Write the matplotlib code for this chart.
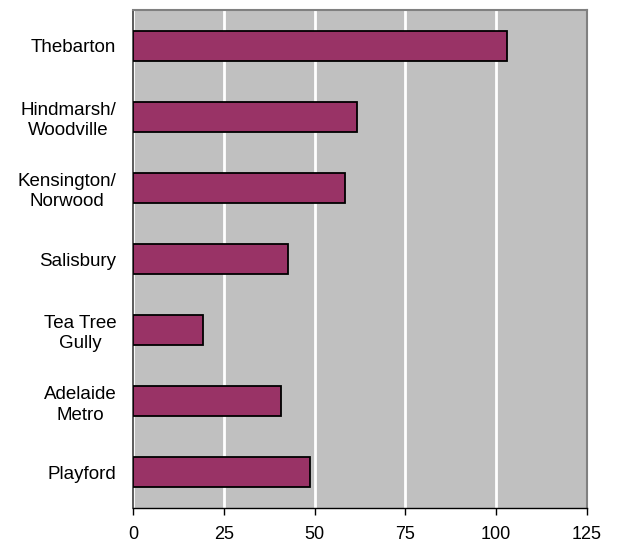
import matplotlib
matplotlib.use("Agg")
import matplotlib.pyplot as plt

plt.rcParams['font.family'] = ['Liberation Sans', 'DejaVu Sans']

regions = ["Thebarton", "Hindmarsh/\nWoodville", "Kensington/\nNorwood", "Salisbury",
           "Tea Tree\nGully", "Adelaide\nMetro", "Playford"]
values = [103, 61.6, 58.4, 42.7, 19.3, 40.8, 48.7]
x_ticks = [0, 25, 50, 75, 100, 125]

fig = plt.figure(figsize=(6.17, 5.44), dpi=100)
ax = fig.add_axes([133 / 617, 36 / 544, 454 / 617, 498 / 544])
ax.set_facecolor("#C0C0C0")

pos = list(range(len(regions)))
ax.barh(pos, values, height=0.42, color="#993366", edgecolor="black", linewidth=1.3, zorder=3)

ax.set_xlim(0, 125)
ax.set_ylim(len(regions) - 0.5, -0.5)
ax.set_xticks(x_ticks)
ax.set_yticks(pos)
ax.set_yticklabels(regions, ha="right", multialignment="center", linespacing=1.25)
ax.tick_params(axis="y", length=0, pad=12, labelsize=13.5)
ax.tick_params(axis="x", direction="out", length=5, width=1, pad=8, labelsize=13)

ax.grid(axis="x", color="white", linewidth=2, zorder=1)
ax.set_axisbelow(True)
for side in ["top", "right"]:
    ax.spines[side].set_color("#808080")
    ax.spines[side].set_linewidth(1.5)
ax.spines["left"].set_color("#404040")
ax.spines["left"].set_linewidth(1.2)
ax.spines["bottom"].set_color("black")
ax.spines["bottom"].set_linewidth(1)

fig.savefig("out.png", dpi=100)
